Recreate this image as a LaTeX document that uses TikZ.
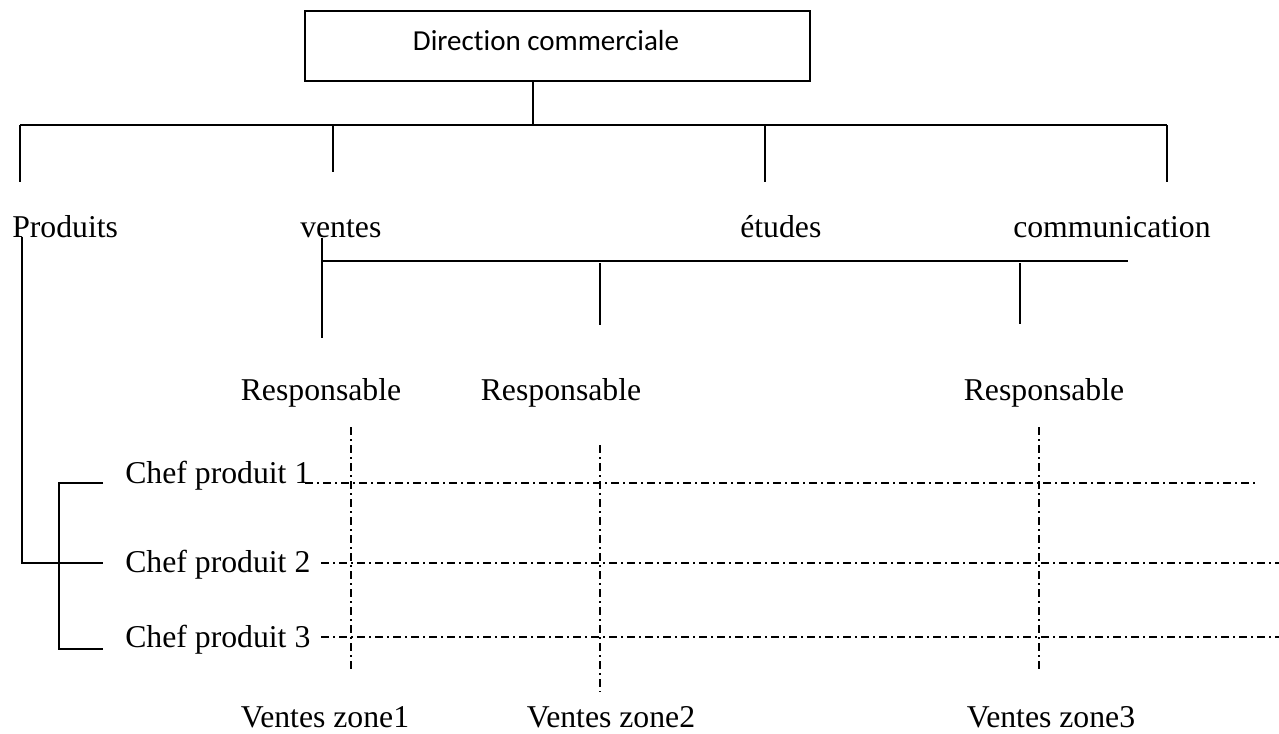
\documentclass[tikz,border=0pt]{standalone}
\usepackage{fontspec}
\setmainfont{Liberation Serif}
\newfontfamily\boxfont[Ligatures=NoCommon]{Carlito}
\begin{document}
\begin{tikzpicture}[x=0.75pt,y=-0.75pt,
  link/.style={line width=1.2pt},
  gridline/.style={line width=1.1pt, dash pattern=on 6pt off 3pt on 1.5pt off 3pt},
  lbl/.style={inner sep=0pt, anchor=base, font=\fontsize{23.8pt}{28pt}\selectfont},
  lblw/.style={lbl, anchor=base west}]
\useasboundingbox (0,0) rectangle (1279,733);

% head box
\node[draw, line width=1.2pt, minimum width=378.75pt, minimum height=52.5pt, inner sep=0pt] (dir) at (557.5,46) {};
\node[inner sep=0pt, anchor=base, font=\boxfont\fontsize{21.75pt}{26pt}\selectfont] (dirtxt) at (546,50) {Direction commerciale};

% main bus and drops
\coordinate (hub) at (533,125);
\coordinate (busL) at (20,125);
\coordinate (busR) at (1167,125);
\coordinate (dP) at (20,182);
\coordinate (dV) at (333,172);
\coordinate (dE) at (765,182);
\coordinate (dC) at (1167,182);
\draw[link] (dir.south -| hub) -- (hub);
\draw[link] (busL) -- (busR);
\draw[link] (busL) -- (dP);
\draw[link] (dV |- busL) -- (dV);
\draw[link] (dE |- busL) -- (dE);
\draw[link] (busR) -- (dC);

% departments
\node[lblw] (prod) at (12,237) {Produits};
\node[lblw] (vent) at (300,237) {ventes};
\node[lblw] (etud) at (740,237) {études};
\node[lblw] (comm) at (1013,237) {communication};

% sales branch
\coordinate (v2L) at (322,261);
\coordinate (v2R) at (1128,261);
\coordinate (vTop) at (322,238);
\coordinate (r1) at (322,338);
\coordinate (r2t) at (600,263);
\coordinate (r2) at (600,325);
\coordinate (r3t) at (1020,263);
\coordinate (r3) at (1020,324);
\draw[link] (v2L) -- (v2R);
\draw[link] (vTop) -- (r1);
\draw[link] (r2t) -- (r2);
\draw[link] (r3t) -- (r3);

\node[lbl] (resp1) at (321,400) {Responsable};
\node[lbl] (resp2) at (561,400) {Responsable};
\node[lbl] (resp3) at (1044,400) {Responsable};

% product managers
\node[lblw] (chef1) at (125,483) {Chef produit 1};
\node[lblw] (chef2) at (125,572) {Chef produit 2};
\node[lblw] (chef3) at (125,647) {Chef produit 3};

\coordinate (pTop) at (22,237);
\coordinate (k1) at (103,483);
\coordinate (k2) at (103,563);
\coordinate (k3) at (103,649);
\coordinate (kx) at (59,483);
\draw[link] (pTop) |- (k2);
\draw[link] (k1) -- (kx) |- (k3);

% matrix grid
\coordinate (g1a) at (305,483);
\coordinate (g1b) at (1259,483);
\coordinate (g2a) at (321,563);
\coordinate (g2b) at (1279,563);
\coordinate (g3a) at (321,637);
\coordinate (g3b) at (1279,637);
\draw[gridline] (g1a) -- (g1b);
\draw[gridline] (g2a) -- (g2b);
\draw[gridline] (g3a) -- (g3b);

\coordinate (c1a) at (351,427);
\coordinate (c1b) at (351,673);
\coordinate (c2a) at (600,445);
\coordinate (c2b) at (600,692);
\coordinate (c3a) at (1039,427);
\coordinate (c3b) at (1039,673);
\draw[gridline] (c1a) -- (c1b);
\draw[gridline] (c2a) -- (c2b);
\draw[gridline] (c3a) -- (c3b);

% sales zones
\node[lbl] (vz1) at (325,727) {Ventes zone1};
\node[lbl] (vz2) at (611,727) {Ventes zone2};
\node[lbl] (vz3) at (1051,727) {Ventes zone3};
\end{tikzpicture}
\end{document}
